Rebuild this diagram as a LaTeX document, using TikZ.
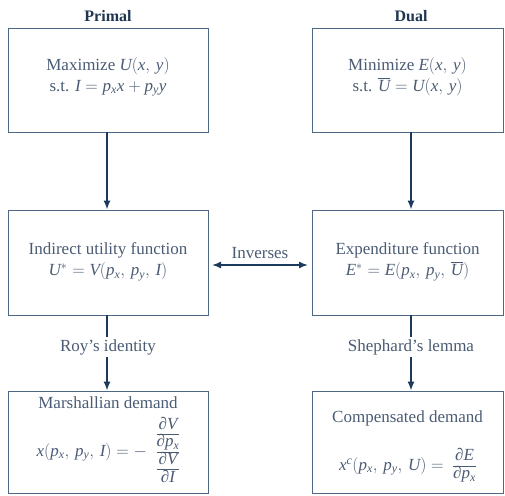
\documentclass[tikz,border=0pt]{standalone}
\usepackage{amsmath}
\usepackage{fontspec}
\setmainfont{Liberation Serif}
\usetikzlibrary{arrows.meta}
\definecolor{txt}{HTML}{4A5B73}
\definecolor{bord}{HTML}{4E6785}
\definecolor{arr}{HTML}{1C3A5C}
\definecolor{ttl}{HTML}{1F3550}
\newcommand\mi[1]{\mathit{#1}}
\newcommand\sbs[2]{\mathit{#1}_{\mathit{#2}}}
\newcommand\pdr{\text{\itshape ∂}}
\newcommand\stk[1]{{\renewcommand\arraystretch{0.78}\setlength\arrayrulewidth{0.6pt}\begin{tabular}[c]{@{}c@{}}#1\end{tabular}}}
\begin{document}
\begin{tikzpicture}[x=1pt,y=-1pt,
  box/.style={draw=bord, line width=0.9pt, minimum width=200pt, minimum height=104pt, inner sep=0pt},
  boxr/.style={box, minimum width=191pt},
  lbl/.style={text=txt, font=\fontsize{17}{21}\selectfont, align=center},
  ttlstyle/.style={text=ttl, font=\fontsize{16}{20}\selectfont\bfseries},
  arrow/.style={draw=arr, line width=1.5pt, -{Latex[length=9pt,width=7pt]}},
  plain/.style={draw=arr, line width=1.5pt}]
\useasboundingbox (0,0) rectangle (505,495);
% boxes
\node[box] (p1) at (108,80) {};
\node[boxr] (d1) at (407.5,80) {};
\node[box, minimum height=105pt] (p2) at (108,262.5) {};
\node[boxr, minimum height=105pt] (d2) at (407.5,262.5) {};
\node[box, minimum height=102pt] (p3) at (108,442) {};
\node[boxr, minimum height=102pt] (d3) at (407.5,442) {};
% titles
\node[ttlstyle] (tp) at (108,16) {Primal};
\node[ttlstyle] (td) at (411,16) {Dual};
% texts
\node[lbl] (t1) at (108,77) {Maximize $\mi{U}(\mi{x},\,\mi{y})$\\ s.t. $\mi{I}=\sbs{p}{x}\mi{x}+\sbs{p}{y}\mi{y}$};
\node[lbl] (t2) at (407.5,77) {Minimize $\mi{E}(\mi{x},\,\mi{y})$\\ s.t. $\overline{\mi{U}}=\mi{U}(\mi{x},\,\mi{y})$};
\node[lbl] (t3) at (108,262) {Indirect utility function\\ $\mi{U}^{*}=\mi{V}(\sbs{p}{x},\,\sbs{p}{y},\,\mi{I})$};
\node[lbl] (t4) at (407.5,262) {Expenditure function\\ $\mi{E}^{*}=\mi{E}(\sbs{p}{x},\,\sbs{p}{y},\,\overline{\mi{U}})$};
\node[lbl] (t5) at (108,403) {Marshallian demand};
\node[lbl] (f5) at (108,452) {$\mi{x}(\sbs{p}{x},\,\sbs{p}{y},\,\mi{I})=-\;\;$\stk{$\pdr\mi{V}$\\\hline $\pdr\sbs{p}{x}$\\\hline $\pdr\mi{V}$\\\hline $\pdr\mi{I}$}};
\node[lbl] (t6) at (407.5,418) {Compensated demand};
\node[lbl] (f6) at (407.5,466) {$\mi{x}^{\mi{c}}(\sbs{p}{x},\,\sbs{p}{y},\,\mi{U})=\;\;$\stk{$\pdr\mi{E}$\\\hline $\pdr\sbs{p}{x}$}};
% labels on arrows
\node[lbl, inner sep=2pt] (roy) at (108,347) {Roy’s identity};
\node[lbl, inner sep=2pt] (shep) at (411,347) {Shephard’s lemma};
\node[lbl, inner sep=2pt] (inv) at (260,253) {Inverses};
\coordinate (ia) at (208,265);
\coordinate (ib) at (312,265);
% arrows
\draw[arrow] ([xshift=-1pt]p1.south) -- ([xshift=-1pt]p2.north);
\draw[arrow] ([xshift=3.5pt]d1.south) -- ([xshift=3.5pt]d2.north);
\draw[plain] ([xshift=-1pt]p2.south) -- ([xshift=-1pt]p2.south |- roy.north);
\draw[arrow] ([xshift=-1pt]roy.south) -- ([xshift=-1pt]roy.south |- p3.north);
\draw[plain] ([xshift=3.5pt]d2.south) -- (shep.north);
\draw[arrow] (shep.south) -- (shep.south |- d3.north);
\draw[draw=arr, line width=1.5pt, {Latex[length=9pt,width=7pt]}-{Latex[length=9pt,width=7pt]}, shorten <=4pt, shorten >=4pt] (ia) -- (ib);
\end{tikzpicture}
\end{document}
